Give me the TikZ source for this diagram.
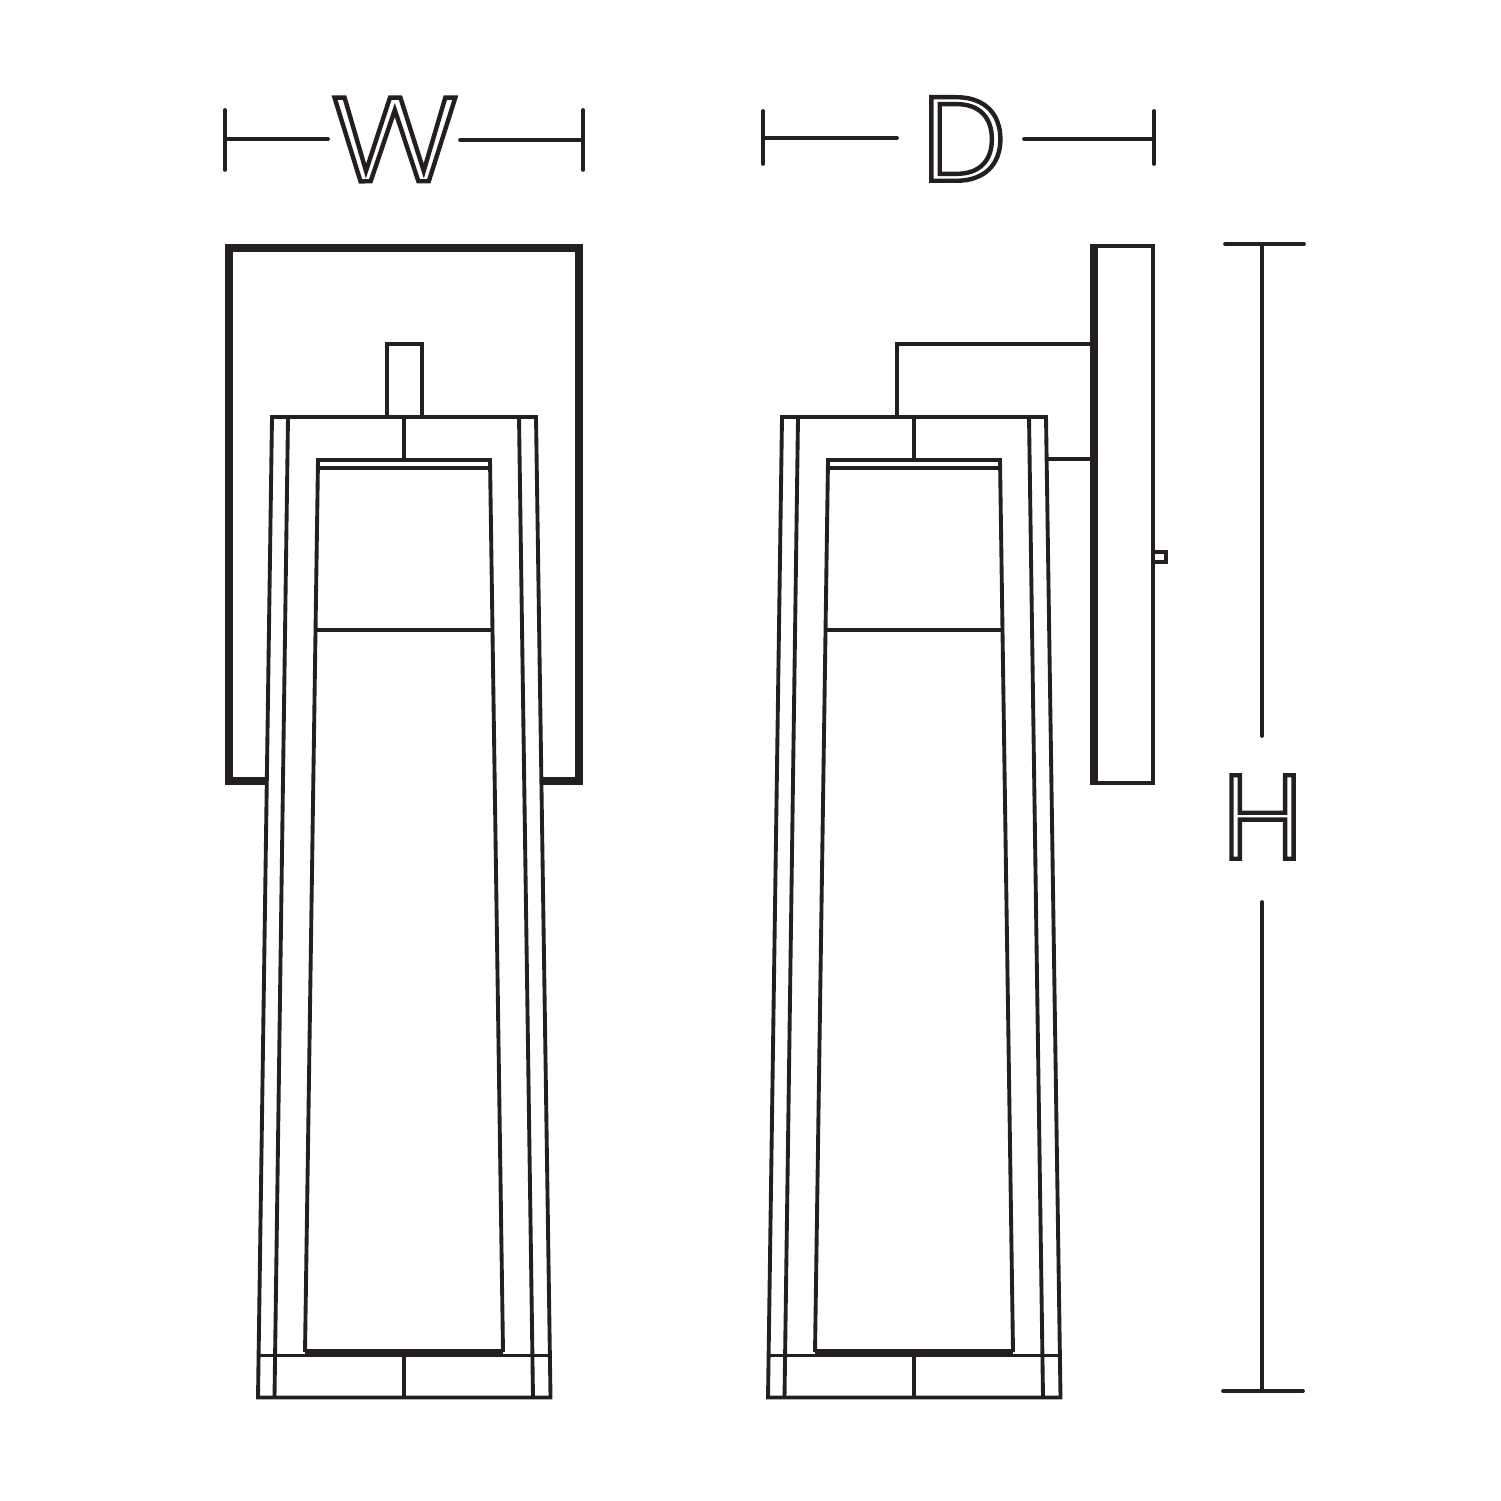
\documentclass[tikz,border=0pt]{standalone}
\usepackage{fontspec}
\newfontfamily\dimfont{Poppins Light}
\newfontfamily\dimfontwide{Poppins Light}[FakeStretch=1.12]
\usetikzlibrary{positioning}
\definecolor{lineink}{HTML}{231F20}
% hollow outlined letters, still real text
\newcommand{\hollow}[1]{\special{pdf:code q 1 Tr 1.25 w}#1\special{pdf:code Q}}
\tikzset{
    thinline/.style={line width=1.1pt, line join=miter},
    heavyline/.style={line width=2.25pt, line join=miter},
    dimline/.style={line width=1.05pt, line cap=round},
    dimlabel/.style={inner sep=0pt, font=\dimfont\fontsize{34}{34}\selectfont}
}

\begin{document}
\begin{tikzpicture}[x=0.01cm, y=-0.01cm, color=lineink]
    \useasboundingbox (0,0) rectangle (1500,1501);

    % Both lanterns, front view and side view
    \foreach \dx in {0,510} {
        \begin{scope}[xshift=\dx*0.01cm]
            % Outer frame
            \draw[thinline] (272,417) -- (536,417) -- (550.5,1397.5) -- (258,1397.5) -- cycle;
            \draw[thinline] (288,417) -- (274.5,1397.5);
            \draw[thinline] (519,417) -- (533,1397.5);
            \draw[thinline] (258,1355.5) -- (550,1355.5);
            \draw[thinline] (404,417) -- (404,460);
            \draw[thinline] (404,1355) -- (404,1397);
            % Glass window
            \draw[thinline] (305,1352) -- (318,460) -- (490,460) -- (503,1352);
            \draw[thinline] (318,468) -- (490,468);
            \draw[thinline] (316,630) -- (492,630);
            \draw[heavyline] (305,1353) -- (503,1353);
        \end{scope}
    }

    % Front view, stem and wall plate
    \draw[thinline] (387,417) -- (387,344) -- (422,344) -- (422,417);
    \draw[heavyline] (265,781) -- (229,781) -- (229,248) -- (579,248) -- (579,781) -- (543,781);

    % Side view, arms and wall plate
    \draw[thinline] (897,417) -- (897,344) -- (1092,344);
    \draw[thinline] (1048,459) -- (1092,459);
    \draw[thinline] (1094,246) -- (1153,246) -- (1153,783) -- (1094,783);
    \draw[heavyline] (1094,244.2) -- (1094,784.8);
    \draw[thinline] (1153,552) -- (1166,552) -- (1166,562) -- (1153,562);

    % Dimension W
    \node[dimlabel, font=\dimfontwide\fontsize{34}{34}\selectfont] (labelW) at (395,139.5) {\hollow{W}};
    \coordinate (wLeft) at (225,139);
    \coordinate (wRight) at (583,140);
    \draw[dimline] (225,110) -- (225,170);
    \draw[dimline] (583,110) -- (583,170);
    \draw[dimline] (wLeft) -- (328,139);
    \draw[dimline] (460,140) -- (wRight);

    % Dimension D
    \node[dimlabel] (labelD) at (964,139) {\hollow{D}};
    \coordinate (dLeft) at (763,138);
    \coordinate (dRight) at (1154,139);
    \draw[dimline] (763,111) -- (763,164);
    \draw[dimline] (1154,111) -- (1154,164);
    \draw[dimline] (dLeft) -- (897,138);
    \draw[dimline] (1024,139) -- (dRight);

    % Dimension H
    \node[dimlabel] (labelH) at (1262.5,817) {\hollow{H}};
    \coordinate (hTop) at (1262,244);
    \coordinate (hBottom) at (1262,1391);
    \draw[dimline] (1225,244) -- (1304,244);
    \draw[dimline] (1223,1391) -- (1303,1391);
    \draw[dimline] (hTop) -- (1262,736);
    \draw[dimline] (1262,902) -- (hBottom);
\end{tikzpicture}
\end{document}
